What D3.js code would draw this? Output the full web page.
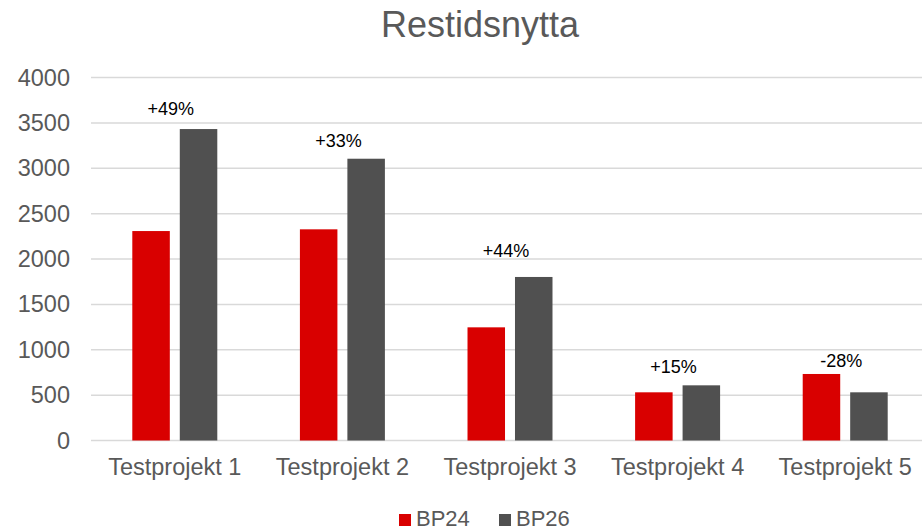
<!DOCTYPE html>
<html>
<head>
<meta charset="utf-8">
<script src="https://cdn.jsdelivr.net/npm/d3@7"></script>
<style>
  body { margin: 0; background: #fff; }
  text { font-family: "Liberation Sans", Arial, sans-serif; }
</style>
</head>
<body>
<svg id="chart"></svg>
<script>
var width = 922;
var height = 531;

var categories = ["Testprojekt 1", "Testprojekt 2", "Testprojekt 3", "Testprojekt 4", "Testprojekt 5"];
var seriesNames = ["BP24", "BP26"];
var bp24 = [2308, 2327, 1247, 531, 733];
var bp26 = [3432, 3105, 1802, 608, 531];
var changeLabels = ["+49%", "+33%", "+44%", "+15%", "-28%"];
var changeLabelAt = [3653, 3306, 2094, 815, 876];
var yTicks = [0, 500, 1000, 1500, 2000, 2500, 3000, 3500, 4000];

var colors = { BP24: "#d90000", BP26: "#505050" };
var textColor = "#595959";

var rows = categories.map((c, i) => ({ cat: c, BP24: bp24[i], BP26: bp26[i], label: changeLabels[i], at: changeLabelAt[i] }));

var svg = d3.select("#chart")
    .attr("width", width)
    .attr("height", height);

var x0 = d3.scaleBand()
    .domain(categories)
    .range([91, 929]);

var x1 = d3.scaleBand()
    .domain(seriesNames)
    .range([0, x0.bandwidth()])
    .paddingInner(0.21)
    .paddingOuter(0.87);

var yScale = d3.scaleLinear()
    .domain([0, 4000])
    .range([440.5, 77.5]);

// gridlines
svg.append("g")
  .selectAll("line")
  .data(yTicks)
  .enter()
  .append("line")
    .attr("x1", 91)
    .attr("x2", width)
    .attr("y1", d => yScale(d))
    .attr("y2", d => yScale(d))
    .attr("stroke", "#d9d9d9")
    .attr("stroke-width", 1.5);

// y axis labels
var yAxis = d3.axisLeft(yScale)
    .tickValues(yTicks)
    .tickFormat(d3.format("d"))
    .tickSize(0)
    .tickPadding(0);

svg.append("g")
    .attr("transform", "translate(70,0)")
    .call(yAxis)
    .call(g => g.select(".domain").remove())
    .selectAll("text")
      .attr("fill", textColor)
      .attr("font-size", "23.5px")
      .attr("font-family", "'Liberation Sans', Arial, sans-serif");

// x axis labels
var xAxis = d3.axisBottom(x0)
    .tickSize(0)
    .tickPadding(0);

svg.append("g")
    .attr("transform", "translate(0,458)")
    .call(xAxis)
    .call(g => g.select(".domain").remove())
    .selectAll("text")
      .attr("fill", textColor)
      .attr("font-size", "23.5px")
      .attr("font-family", "'Liberation Sans', Arial, sans-serif");

// bars
var groups = svg.append("g")
  .selectAll(".group")
  .data(rows)
  .enter()
  .append("g")
    .classed("group", true)
    .attr("transform", d => "translate(" + x0(d.cat) + ",0)");

groups.selectAll("rect")
  .data(d => seriesNames.map(s => ({ key: s, value: d[s] })))
  .enter()
  .append("rect")
    .attr("x", d => x1(d.key))
    .attr("y", d => yScale(d.value))
    .attr("width", x1.bandwidth())
    .attr("height", d => yScale(0) - yScale(d.value))
    .attr("fill", d => colors[d.key]);

// change labels
svg.append("g")
  .selectAll("text")
  .data(rows)
  .enter()
  .append("text")
    .attr("x", d => x0(d.cat) + x0.bandwidth() / 2 - 4)
    .attr("y", d => yScale(d.at))
    .attr("dy", "0.35em")
    .attr("text-anchor", "middle")
    .attr("font-size", "18px")
    .attr("fill", "#000")
    .text(d => d.label);

// title
svg.append("text")
    .attr("x", 480)
    .attr("y", 37)
    .attr("text-anchor", "middle")
    .attr("font-size", "36px")
    .attr("fill", textColor)
    .text("Restidsnytta");

// legend
var legendItems = [
  { key: "BP24", x: 399 },
  { key: "BP26", x: 499 }
];

var legend = svg.append("g")
  .selectAll("g")
  .data(legendItems)
  .enter()
  .append("g")
    .attr("transform", d => "translate(" + d.x + ",514)");

legend.append("rect")
    .attr("width", 12)
    .attr("height", 12)
    .attr("fill", d => colors[d.key]);

legend.append("text")
    .attr("x", 17)
    .attr("y", 12)
    .attr("font-size", "22px")
    .attr("fill", textColor)
    .text(d => d.key);
</script>
</body>
</html>
